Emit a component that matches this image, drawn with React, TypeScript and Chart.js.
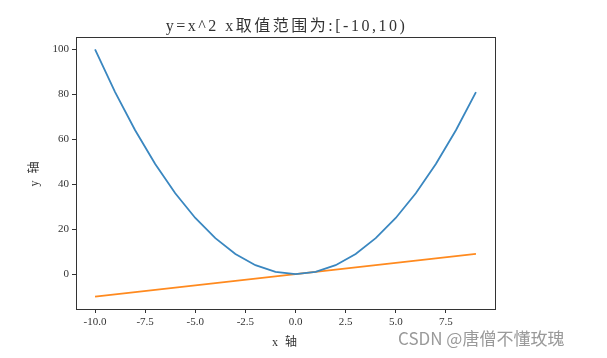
import React, { useEffect, useRef } from "react";
import { Chart, registerables } from "chart.js";

Chart.register(...registerables);

const xValues = [-10, -9, -8, -7, -6, -5, -4, -3, -2, -1, 0, 1, 2, 3, 4, 5, 6, 7, 8, 9];
const squareValues = [100, 81, 64, 49, 36, 25, 16, 9, 4, 1, 0, 1, 4, 9, 16, 25, 36, 49, 64, 81];
const linearValues = [-10, -9, -8, -7, -6, -5, -4, -3, -2, -1, 0, 1, 2, 3, 4, 5, 6, 7, 8, 9];
const xTicks = [-10, -7.5, -5, -2.5, 0, 2.5, 5, 7.5];
const yTicks = [0, 20, 40, 60, 80, 100];
const titleText = "y=x^2 x取值范围为:[-10,10)";
const xLabel = "x 轴";
const yLabel = "y 轴";
const watermark = "CSDN @唐僧不懂玫瑰";

const FONT = "'Liberation Serif', 'Noto Sans CJK SC', serif";

export default function App() {
  const ref = useRef<HTMLCanvasElement | null>(null);
  useEffect(() => {
    document.body.style.margin = "0";
    const canvas = ref.current!;
    const textPlugin = {
      id: "texts",
      afterDraw(chart: any) {
        const ctx = chart.ctx;
        const a = chart.chartArea;
        ctx.save();
        ctx.strokeStyle = "#333";
        ctx.lineWidth = 1;
        ctx.strokeRect(Math.round(a.left) + 0.5, Math.round(a.top) + 0.5, Math.round(a.right - a.left), Math.round(a.bottom - a.top));
        ctx.fillStyle = "#333";
        ctx.textAlign = "center";
        ctx.textBaseline = "middle";
        ctx.font = "16px " + FONT;
        (ctx as any).letterSpacing = "2.5px";
        ctx.fillText(titleText, (a.left + a.right) / 2 + 1, 27);
        ctx.font = "12px " + FONT;
        (ctx as any).letterSpacing = "2px";
        ctx.fillText(xLabel, (a.left + a.right) / 2, 343);
        ctx.save();
        ctx.translate(35, (a.top + a.bottom) / 2);
        ctx.rotate(-Math.PI / 2);
        ctx.fillText(yLabel, 0, 0);
        ctx.restore();
        (ctx as any).letterSpacing = "0px";
        ctx.fillStyle = "#9a9a9a";
        ctx.textAlign = "left";
        ctx.font = "17px 'Noto Sans CJK SC', 'DejaVu Sans', sans-serif";
        ctx.fillText(watermark, 398, 339);
        ctx.restore();
      },
    };
    const chart = new Chart(canvas, {
      type: "line",
      data: {
        datasets: [
          {
            data: xValues.map((x, i) => ({ x, y: squareValues[i] })),
            borderColor: "#3a87c0",
            borderWidth: 1.8,
            pointRadius: 0,
            tension: 0,
          },
          {
            data: xValues.map((x, i) => ({ x, y: linearValues[i] })),
            borderColor: "#ff8a1f",
            borderWidth: 1.8,
            pointRadius: 0,
            tension: 0,
          },
        ],
      },
      options: {
        animation: false,
        responsive: false,
        layout: { padding: { left: 0, top: 37, right: 112, bottom: 0 } },
        plugins: { legend: { display: false }, title: { display: false }, tooltip: { enabled: false } },
        scales: {
          x: {
            type: "linear",
            min: -10.95,
            max: 9.95,
            afterBuildTicks: (s: any) => {
              s.ticks = xTicks.map((v) => ({ value: v }));
            },
            afterFit: (s: any) => {
              s.height = 49;
            },
            grid: { display: true, drawOnChartArea: false, drawTicks: true, tickLength: 4, color: "#333" },
            border: { display: true, color: "#333" },
            ticks: {
              color: "#333",
              padding: 3,
              maxRotation: 0,
              autoSkip: false,
              font: { family: FONT, size: 11 },
              callback: (v: any) => Number(v).toFixed(1),
            },
          },
          y: {
            type: "linear",
            min: -15.5,
            max: 105.5,
            afterBuildTicks: (s: any) => {
              s.ticks = yTicks.map((v) => ({ value: v }));
            },
            afterFit: (s: any) => {
              s.width = 76;
            },
            grid: { display: true, drawOnChartArea: false, drawTicks: true, tickLength: 4, color: "#333" },
            border: { display: true, color: "#333" },
            ticks: {
              color: "#333",
              padding: 3,
              autoSkip: false,
              font: { family: FONT, size: 11 },
              callback: (v: any) => String(v),
            },
          },
        },
      },
      plugins: [textPlugin],
    } as any);
    return () => chart.destroy();
  }, []);
  return (
    <div style={{ position: "fixed", left: 0, top: 0, width: 607, height: 358, background: "#fff" }}>
      <canvas ref={ref} width={607} height={358} style={{ width: 607, height: 358 }} />
    </div>
  );
}
